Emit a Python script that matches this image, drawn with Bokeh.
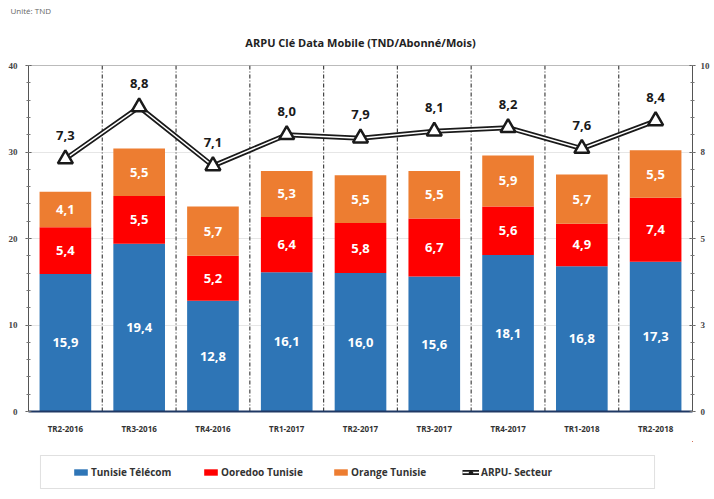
import numpy as np
from bokeh.plotting import figure
from bokeh.layouts import column
from bokeh.models import (Range1d, LinearAxis, FixedTicker, NumeralTickFormatter,
                          Legend, LegendItem, Title, BoxAnnotation)
from bokeh.embed import file_html
from bokeh.resources import INLINE
from bokeh.core.properties import value

quarters = ["TR2-2016", "TR3-2016", "TR4-2016", "TR1-2017", "TR2-2017",
            "TR3-2017", "TR4-2017", "TR1-2018", "TR2-2018"]
telecom = [15.9, 19.4, 12.8, 16.1, 16.0, 15.6, 18.1, 16.8, 17.3]
ooredoo = [5.4, 5.5, 5.2, 6.4, 5.8, 6.7, 5.6, 4.9, 7.4]
orange = [4.1, 5.5, 5.7, 5.3, 5.5, 5.5, 5.9, 5.7, 5.5]
arpu = [7.3, 8.8, 7.1, 8.0, 7.9, 8.1, 8.2, 7.6, 8.4]
series_names = ["Tunisie Télécom", "Ooredoo Tunisie", "Orange Tunisie", "ARPU- Secteur"]
left_ticks = [0, 10, 20, 30, 40]
right_ticks = [0, 2.5, 5, 7.5, 10]

BLUE, RED, ORANGE = "#2E75B6", "#FF0000", "#ED7D31"
FONT = "Open Sans"
W = 712
LEFT, FRAME_W = 28, 665
RIGHT = W - LEFT - FRAME_W

def fmt(v):
    return f"{v:.1f}".replace(".", ",")

n = len(quarters)
xs = [i + 0.5 for i in range(n)]
t = np.array(telecom); o = np.array(ooredoo); g = np.array(orange)
b1 = np.zeros(n); top1 = t
b2 = top1; top2 = top1 + o
b3 = top2; top3 = top2 + g

p = figure(width=W, height=441, output_backend="svg", toolbar_location=None,
           x_range=Range1d(0, n), y_range=Range1d(0, 40),
           min_border_left=LEFT, min_border_right=RIGHT, min_border_top=65,
           min_border_bottom=30)
p.extra_y_ranges = {"r": Range1d(0, 10)}

p.title = Title(text="Unité: TND", align="left", text_font=FONT, offset=-18, standoff=2,
                text_font_size="8px", text_font_style="normal", text_color="#666666")
p.add_layout(Title(text="ARPU Clé Data Mobile (TND/Abonné/Mois)", align="center",
                   text_font=FONT, text_font_size="11px", text_font_style="bold",
                   text_color="#222222", standoff=32, offset=8), "above")

# dividers
bounds = list(range(1, n))
p.segment(x0=bounds, x1=bounds, y0=[0] * len(bounds), y1=[40] * len(bounds),
          line_color="#444444", line_width=1.2, line_dash="4 2 1 2")

r1 = p.vbar(x=xs, bottom=b1, top=top1, width=0.7, fill_color=BLUE, line_color=None)
r2 = p.vbar(x=xs, bottom=b2, top=top2, width=0.7, fill_color=RED, line_color=None)
r3 = p.vbar(x=xs, bottom=b3, top=top3, width=0.7, fill_color=ORANGE, line_color=None)

for bot, top, vals in [(b1, top1, telecom), (b2, top2, ooredoo), (b3, top3, orange)]:
    p.text(x=xs, y=list((bot + top) / 2), text=[fmt(v) for v in vals],
           text_align="center", text_baseline="middle", text_color="white",
           text_font=value(FONT), text_font_size="13px", text_font_style="bold")

p.line(xs, arpu, y_range_name="r", line_color="#1a1a1a", line_width=5)
p.line(xs, arpu, y_range_name="r", line_color="white", line_width=1.5)
p.scatter(xs, arpu, y_range_name="r", marker="triangle", size=15,
          fill_color="white", line_color="#1a1a1a", line_width=2.5)
p.text(x=xs, y=arpu, y_range_name="r", text=[fmt(v) for v in arpu], y_offset=-19,
       text_align="center", text_baseline="bottom", text_color="#1a1a1a",
       text_font=value(FONT), text_font_size="13px", text_font_style="bold")

# axes
def style_y(ax, standoff):
    ax.major_label_text_font = "Liberation Serif"
    ax.major_label_text_font_size = "9px"
    ax.major_label_text_font_style = "bold"
    ax.major_label_text_color = "#444444"
    ax.axis_line_color = "#555555"
    ax.major_tick_line_color = "#555555"
    ax.minor_tick_line_color = "#777777"
    ax.major_tick_in = 3
    ax.major_tick_out = 3
    ax.minor_tick_in = 2
    ax.minor_tick_out = 2
    ax.major_label_standoff = standoff

p.yaxis.ticker = FixedTicker(ticks=left_ticks, minor_ticks=list(np.arange(0, 41, 2)))
style_y(p.yaxis[0], 8)

ra = LinearAxis(y_range_name="r",
                ticker=FixedTicker(ticks=right_ticks, minor_ticks=list(np.arange(0, 10.1, 0.5))),
                formatter=NumeralTickFormatter(format="0"))
style_y(ra, 5)
p.add_layout(ra, "right")

p.xaxis.ticker = FixedTicker(ticks=xs)
p.xaxis.major_label_overrides = {x: q for x, q in zip(xs, quarters)}
p.xaxis.major_label_text_font = FONT
p.xaxis.major_label_text_font_size = "8px"
p.xaxis.major_label_text_font_style = "bold"
p.xaxis.major_label_text_color = "#333333"
p.xaxis.axis_line_color = "#1F3864"
p.xaxis.axis_line_width = 2
p.xaxis.major_tick_line_color = None
p.xaxis.minor_tick_line_color = None
p.xaxis.major_label_standoff = 5

p.xgrid.grid_line_color = None
p.ygrid.grid_line_color = "#e6e6e6"
p.outline_line_color = "#bbbbbb"

# legend panel: a second figure whose frame matches the chart's frame horizontally;
# its ranges are in pixel units and the sample renderers lie entirely outside them
LG_H = 55
X0 = -FRAME_W - 40
Y1 = -40
lg = figure(width=W, height=LG_H, output_backend="svg", toolbar_location=None,
            x_range=Range1d(X0, X0 + FRAME_W), y_range=Range1d(Y1 - LG_H, Y1),
            x_axis_type=None, y_axis_type=None,
            min_border_left=LEFT, min_border_right=RIGHT, min_border_top=0,
            min_border_bottom=0)
lg.grid.visible = False
lg.outline_line_color = None
box_top = Y1 - 14
lg.add_layout(BoxAnnotation(left=X0 + 12, right=X0 + FRAME_W - 38, top=box_top,
                            bottom=box_top - 33, fill_alpha=0, line_color="#999999",
                            line_width=1))
e1 = lg.vbar(x=xs, top=telecom, width=0.7, fill_color=BLUE, line_color=None)
e2 = lg.vbar(x=xs, top=ooredoo, width=0.7, fill_color=RED, line_color=None)
e3 = lg.vbar(x=xs, top=orange, width=0.7, fill_color=ORANGE, line_color=None)
e4 = lg.line(xs, arpu, line_color="#1a1a1a", line_width=5)
e5 = lg.line(xs, arpu, line_color="white", line_width=1.5)
e6 = lg.scatter(xs, arpu, marker="triangle", size=11, fill_color="white",
                line_color="#1a1a1a", line_width=2)
legend = Legend(items=[
    LegendItem(label=series_names[0], renderers=[e1]),
    LegendItem(label=series_names[1], renderers=[e2]),
    LegendItem(label=series_names[2], renderers=[e3]),
    LegendItem(label=series_names[3], renderers=[e4, e5, e6]),
], orientation="horizontal", location=(44, 17),
    label_text_font=FONT, label_text_font_size="10px", label_text_font_style="bold",
    label_text_color="#333333", glyph_width=17, glyph_height=8, spacing=0,
    label_width=111, border_line_color=None, background_fill_alpha=0,
    padding=0, margin=0, label_standoff=2)
lg.add_layout(legend, "center")

open("out.html", "w").write(file_html(column(p, lg, spacing=0), INLINE))
